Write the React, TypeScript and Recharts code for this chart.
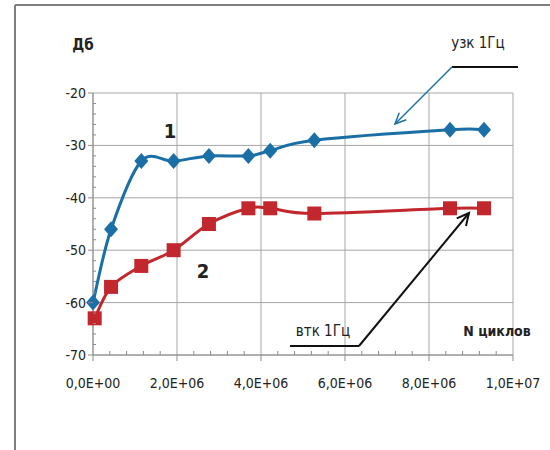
import { LineChart, Line, XAxis, YAxis, CartesianGrid } from 'recharts';

// кривая 1 — узк 1Гц
const uzkX = [0, 0.43e6, 1.15e6, 1.92e6, 2.76e6, 3.7e6, 4.22e6, 5.27e6, 8.5e6, 9.31e6];
const uzkDb = [-60, -46, -33, -33, -32, -32, -31, -29, -27, -27];

// кривая 2 — втк 1Гц
const vtkX = [0.04e6, 0.43e6, 1.15e6, 1.92e6, 2.76e6, 3.7e6, 4.22e6, 5.27e6, 8.5e6, 9.31e6];
const vtkDb = [-63, -57, -53, -50, -45, -42, -42, -43, -42, -42];

const xMajor = [0, 2e6, 4e6, 6e6, 8e6, 1e7];
const yMajor = [-70, -60, -50, -40, -30, -20];
const xMinor = Array.from({ length: 26 }, (_, i) => i * 0.4e6);
const yMinor = Array.from({ length: 26 }, (_, i) => -70 + i * 2);

const uzk = uzkX.map((x, i) => ({ x, y: uzkDb[i] }));
const vtk = vtkX.map((x, i) => ({ x, y: vtkDb[i] }));

const BLUE = '#1a6fa6';
const RED = '#c1272d';
const AXIS = '#8c8c8c';
const FONT = '"Liberation Sans Narrow", "DejaVu Sans Condensed", Arial, sans-serif';

function sci(v: number) {
  if (v === 0) return '0,0E+00';
  const e = Math.floor(Math.log10(v));
  const m = v / Math.pow(10, e);
  return `${m.toFixed(1).replace('.', ',')}E+${String(e).padStart(2, '0')}`;
}

// сглаживание как в Excel (Catmull-Rom)
function smooth(context: any) {
  let pts: number[][] = [];
  return {
    areaStart() {},
    areaEnd() {},
    lineStart() { pts = []; },
    point(x: number, y: number) { pts.push([+x, +y]); },
    lineEnd() {
      if (!pts.length) return;
      context.moveTo(pts[0][0], pts[0][1]);
      for (let i = 0; i < pts.length - 1; i++) {
        const p0 = pts[Math.max(i - 1, 0)];
        const p1 = pts[i];
        const p2 = pts[i + 1];
        const p3 = pts[Math.min(i + 2, pts.length - 1)];
        context.bezierCurveTo(
          p1[0] + (p2[0] - p0[0]) / 6, p1[1] + (p2[1] - p0[1]) / 6,
          p2[0] - (p3[0] - p1[0]) / 6, p2[1] - (p3[1] - p1[1]) / 6,
          p2[0], p2[1],
        );
      }
    },
  };
}

function Diamond({ cx, cy }: any) {
  if (cx == null || cy == null) return null;
  return <path d={`M${cx},${cy - 8} L${cx + 7},${cy} L${cx},${cy + 8} L${cx - 7},${cy} Z`} fill={BLUE} />;
}

function Square({ cx, cy }: any) {
  if (cx == null || cy == null) return null;
  return <rect x={cx - 7} y={cy - 7} width={14} height={14} fill={RED} />;
}

function XTick({ x, y, payload }: any) {
  const v = payload.value;
  const major = xMajor.some((m) => Math.abs(m - v) < 1);
  if (!major) return <line x1={x} y1={y - 4} x2={x} y2={y} stroke={AXIS} />;
  return (
    <g>
      <line x1={x} y1={y} x2={x} y2={y + 6} stroke={AXIS} />
      <text x={x} y={y + 33} textAnchor="middle" fontSize={14} fill="#222" fontFamily={FONT}>{sci(v)}</text>
    </g>
  );
}

function YTick({ x, y, payload }: any) {
  const v = payload.value;
  const major = yMajor.includes(v);
  if (!major) return <line x1={x} y1={y} x2={x + 3} y2={y} stroke={AXIS} />;
  return (
    <g>
      <line x1={x - 5} y1={y} x2={x} y2={y} stroke={AXIS} />
      <text x={x - 7} y={y + 5} textAnchor="end" fontSize={14} fill="#222" fontFamily={FONT}>{v}</text>
    </g>
  );
}

export default function App() {
  return (
    <div style={{ position: 'absolute', left: 0, top: 0, width: 550, height: 450, background: '#fff', fontFamily: FONT }}>
      <LineChart width={550} height={450} data={uzk} margin={{ top: 93, right: 37, bottom: 65, left: 53 }}>
        <CartesianGrid stroke="#a6a6a6" horizontalValues={yMajor} verticalValues={xMajor} />
        <XAxis
          dataKey="x"
          type="number"
          domain={[0, 1e7]}
          ticks={xMinor}
          interval={0}
          stroke={AXIS}
          tickLine={false}
          tickSize={0}
          tickMargin={0}
          height={30}
          tick={<XTick />}
        />
        <YAxis
          type="number"
          domain={[-70, -20]}
          ticks={yMinor}
          interval={0}
          stroke={AXIS}
          tickLine={false}
          tickSize={0}
          tickMargin={0}
          width={40}
          tick={<YTick />}
        />
        <Line
          data={uzk}
          dataKey="y"
          type={smooth as any}
          stroke={BLUE}
          strokeWidth={3}
          dot={<Diamond />}
          activeDot={false}
          isAnimationActive={false}
        />
        <Line
          data={vtk}
          dataKey="y"
          type={smooth as any}
          stroke={RED}
          strokeWidth={3}
          dot={<Square />}
          activeDot={false}
          isAnimationActive={false}
        />
      </LineChart>
      <svg width={550} height={450} style={{ position: 'absolute', left: 0, top: 0, pointerEvents: 'none' }}>
        <defs>
          <marker id="arrB" markerWidth="14" markerHeight="14" refX="12" refY="6" orient="auto" markerUnits="userSpaceOnUse">
            <path d="M1,1 L12,6 L1,11" fill="none" stroke={BLUE} strokeWidth={1.5} />
          </marker>
          <marker id="arrK" markerWidth="16" markerHeight="16" refX="13" refY="7" orient="auto" markerUnits="userSpaceOnUse">
            <path d="M1,1 L13,7 L1,13" fill="none" stroke="#111" strokeWidth={2} />
          </marker>
        </defs>
        <line x1={15} y1={5} x2={550} y2={5} stroke="#7f7f7f" strokeWidth={2} />
        <line x1={15} y1={5} x2={15} y2={450} stroke="#7f7f7f" strokeWidth={2} />
        <text x={83} y={50} textAnchor="middle" fontSize={15} fontWeight="bold" fill="#222" fontFamily={FONT}>Дб</text>
        <text x={478} y={48} textAnchor="middle" fontSize={15} fill="#222" fontFamily={FONT}>узк 1Гц</text>
        <line x1={452} y1={67} x2={518} y2={67} stroke="#111" strokeWidth={2} />
        <line x1={452} y1={67} x2={395} y2={124} stroke={BLUE} strokeWidth={1.5} markerEnd="url(#arrB)" />
        <text x={170} y={138} textAnchor="middle" fontSize={20} fontWeight="bold" fill="#222" fontFamily={FONT}>1</text>
        <text x={203} y={278} textAnchor="middle" fontSize={20} fontWeight="bold" fill="#222" fontFamily={FONT}>2</text>
        <text x={323} y={336} textAnchor="middle" fontSize={15} fill="#222" fontFamily={FONT}>втк 1Гц</text>
        <line x1={290} y1={346} x2={359} y2={346} stroke="#111" strokeWidth={2} />
        <line x1={359} y1={346} x2={469} y2={213} stroke="#111" strokeWidth={2} markerEnd="url(#arrK)" />
        <text x={497} y={336} textAnchor="middle" fontSize={14} fontWeight="bold" fill="#222" fontFamily={FONT}>N циклов</text>
      </svg>
    </div>
  );
}
